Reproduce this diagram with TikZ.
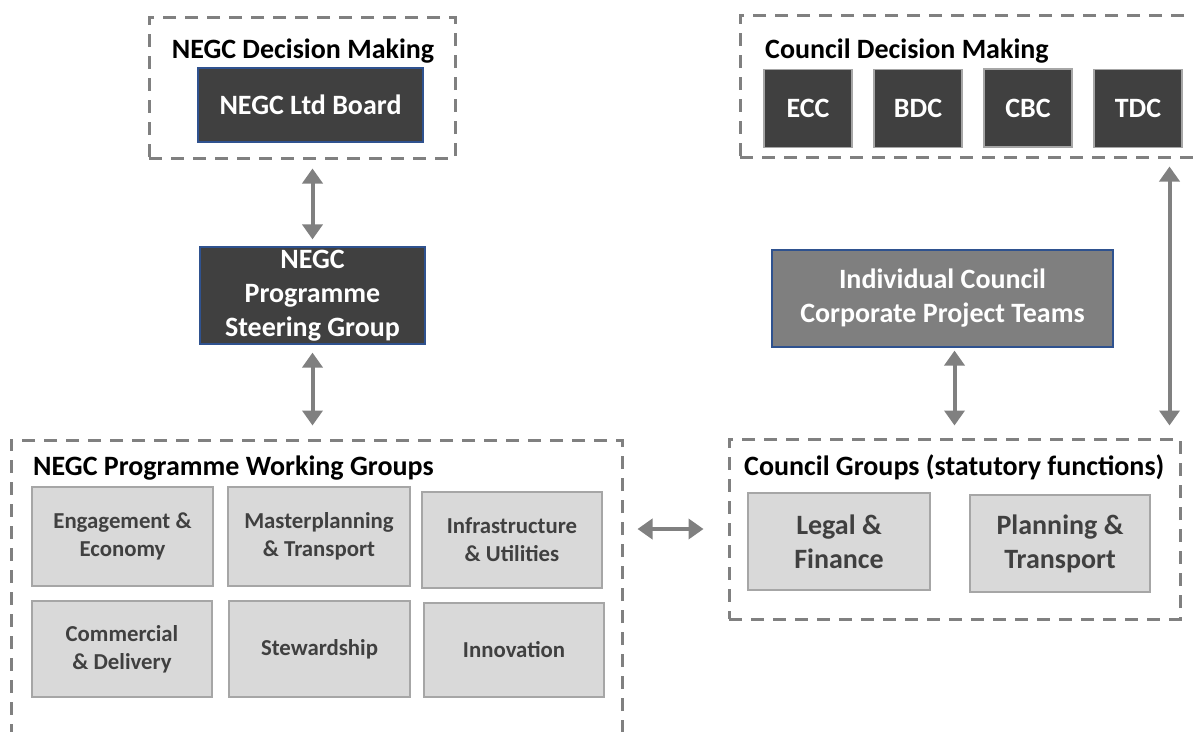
\documentclass[tikz,border=0pt]{standalone}
\usepackage{fontspec}
\setmainfont{Carlito}
\usepackage{tikz}
\usetikzlibrary{calc, arrows.meta}

\definecolor{boxdark}{HTML}{404040}
\definecolor{boxmid}{HTML}{7F7F7F}
\definecolor{boxlight}{HTML}{D9D9D9}
\definecolor{edgelight}{HTML}{A6A6A6}
\definecolor{edgeblue}{HTML}{2F528F}
\definecolor{linegray}{HTML}{808080}
\definecolor{textgray}{HTML}{404040}

\newcommand{\headfont}{\fontsize{28}{34}\selectfont\bfseries}
\newcommand{\cellfont}{\fontsize{22.8}{28}\selectfont\bfseries}

\begin{document}
\begin{tikzpicture}
			[x=1pt, y=-1pt,
			 groupbox/.style={draw=linegray, line width=3pt, dash pattern=on 13pt off 9pt, inner sep=0pt},
			 grouptitle/.style={font=\headfont, text=black, inner sep=0pt},
			 darkbox/.style={fill=boxdark, draw=edgeblue, line width=1.2pt, text=white, font=\headfont, align=center, inner sep=0pt},
			 councilbox/.style={darkbox, draw=edgelight, minimum width=88pt, minimum height=78pt},
			 midbox/.style={darkbox, fill=boxmid},
			 cellbox/.style={fill=boxlight, draw=edgelight, line width=1.5pt, text=textgray, font=\cellfont, align=center, inner sep=0pt},
			 bigcell/.style={cellbox, font=\headfont},
			 twoway/.style={draw=linegray, line width=4pt, {Triangle[width=20pt,length=15pt]}-{Triangle[width=20pt,length=15pt]}}]
			\path[use as bounding box, clip] (0,0) rectangle (1193,731);

			% NEGC side
			\node[groupbox, minimum width=306pt, minimum height=141pt] (negcdm) at (302,87.5) {};
			\node[grouptitle, anchor=base] (negcdmtitle) at (303,58) {NEGC Decision Making};
			\node[darkbox, minimum width=225pt, minimum height=74pt] (board) at (310.5,105) {NEGC Ltd Board};
			\node[darkbox, minimum width=225pt, minimum height=97pt] (steer) at (312.5,295.5) {NEGC\\Programme\\Steering Group};

			\node[groupbox, minimum width=611pt, minimum height=320pt] (wg) at (316.5,600) {};
			\node[grouptitle, anchor=base west] (wgtitle) at (33,475) {NEGC Programme Working Groups};
			\node[cellbox, minimum width=181pt, minimum height=99pt] (engage) at (122.5,536.5) {Engagement \&\\Economy};
			\node[cellbox, minimum width=182pt, minimum height=99pt] (master) at (319,536.5) {Masterplanning\\\& Transport};
			\node[cellbox, minimum width=180pt, minimum height=96pt] (infra) at (512,540) {Infrastructure\\\& Utilities};
			\node[cellbox, minimum width=180pt, minimum height=96pt] (commerce) at (122,649) {Commercial\\\& Delivery};
			\node[cellbox, minimum width=181pt, minimum height=96pt] (steward) at (319.5,649) {Stewardship};
			\node[cellbox, minimum width=180pt, minimum height=94pt] (innov) at (514,650) {Innovation};

			% council side
			\node[groupbox, minimum width=470pt, minimum height=142pt] (cdm) at (975,86) {};
			\node[grouptitle, anchor=base west] (cdmtitle) at (765,58) {Council Decision Making};
			\node[councilbox] (ecc) at (808,108.5) {ECC};
			\node[councilbox] (bdc) at (918,108.5) {BDC};
			\node[councilbox] (cbc) at (1028,108) {CBC};
			\node[councilbox] (tdc) at (1138,108.5) {TDC};

			\node[midbox, minimum width=341pt, minimum height=97pt] (teams) at (942.5,298.5) {Individual Council\\Corporate Project Teams};

			\node[groupbox, minimum width=451pt, minimum height=180pt] (cg) at (954.5,529) {};
			\node[grouptitle, anchor=base west] (cgtitle) at (744,475) {Council Groups (statutory functions)};
			\node[bigcell, minimum width=182pt, minimum height=97pt] (legal) at (839,541.5) {Legal \&\\Finance};
			\node[bigcell, minimum width=180pt, minimum height=97pt] (plan) at (1060,543.5) {Planning \&\\Transport};

			% links
			\draw[twoway, shorten <=9pt, shorten >=7pt] (steer.north |- negcdm.south) -- (steer.north);
			\draw[twoway, shorten <=8pt, shorten >=13pt] (steer.south) -- (steer.south |- wg.north);
			\draw[twoway, shorten <=14pt, shorten >=24pt] (wg.east |- cg.west) -- (cg.west);
			\draw[twoway, shorten <=3pt, shorten >=12pt] (cg.north |- teams.south) -- (cg.north);
			\draw[twoway, shorten <=8pt, shorten >=12pt] ($(cg.north east |- cdm.south)+(-12,0)$) -- ($(cg.north east)+(-12,0)$);
		\end{tikzpicture}
\end{document}
